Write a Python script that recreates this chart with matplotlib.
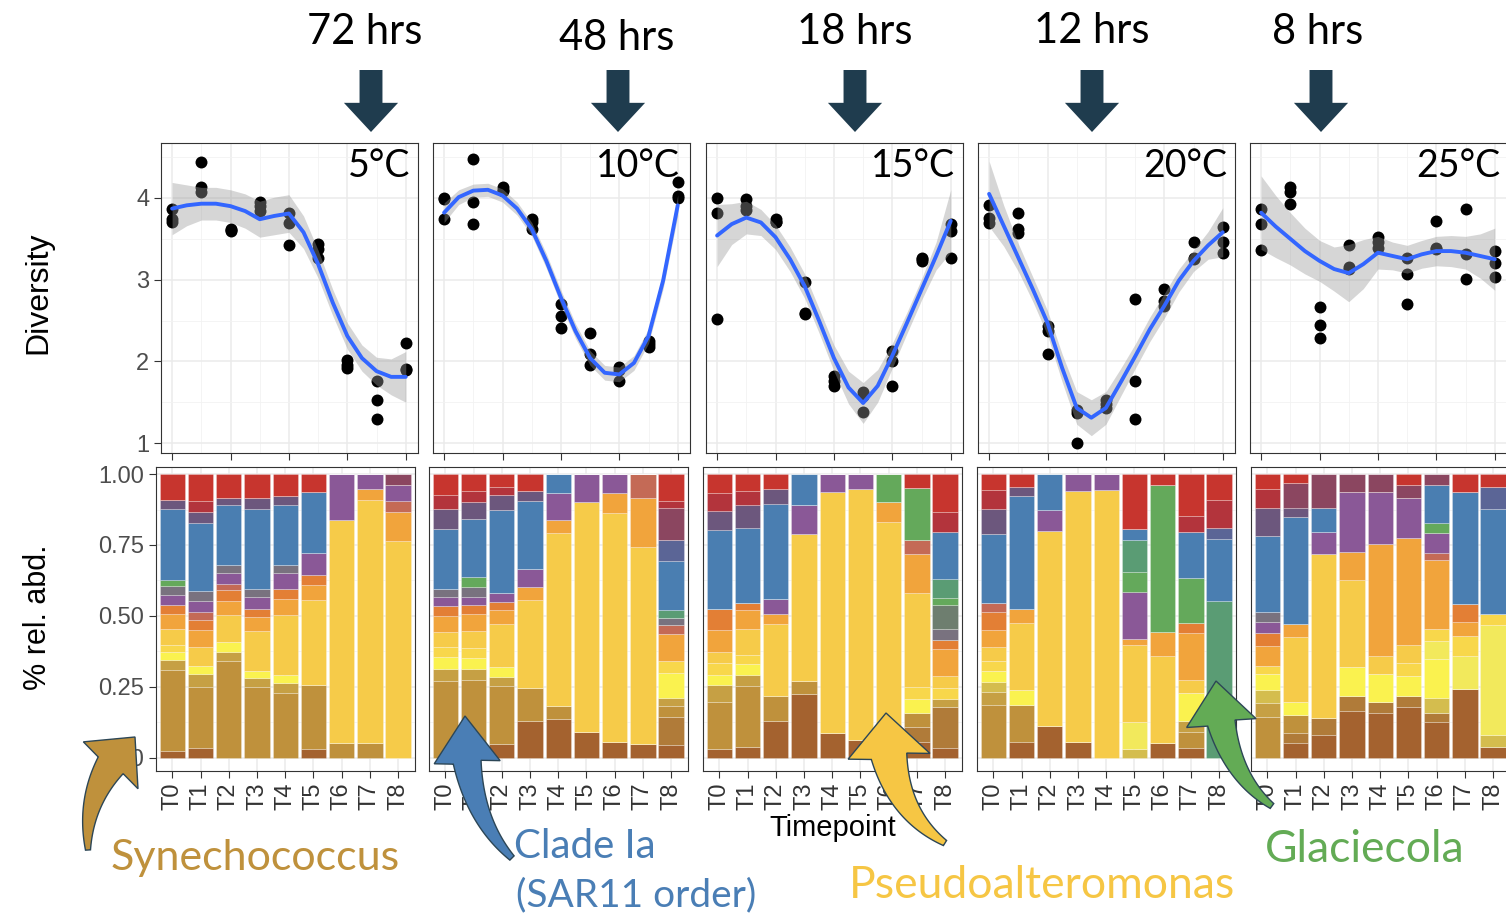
import matplotlib
matplotlib.use("Agg")
import matplotlib.pyplot as plt
import numpy as np
from matplotlib.patches import FancyArrowPatch, Polygon

W, H = 1506, 916

temps = ["5°C", "10°C", "15°C", "20°C", "25°C"]
hours = ["72 hrs", "48 hrs", "18 hrs", "12 hrs", "8 hrs"]
timepoints = ["T0", "T1", "T2", "T3", "T4", "T5", "T6", "T7", "T8"]

# diversity replicates per timepoint (T0..T8)
div_5 = [[3.86, 3.74, 3.70], [4.44, 4.13, 4.07], [3.61, 3.60, 3.62], [3.95, 3.90, 3.84],
         [3.82, 3.69, 3.42], [3.44, 3.37, 3.26], [2.02, 1.96, 1.92], [1.76, 1.53, 1.30],
         [2.23, 1.91, 1.89]]
div_10 = [[4.00, 3.99, 3.74], [4.48, 3.95, 3.68], [4.13, 4.10, 4.08], [3.74, 3.70, 3.62],
          [2.70, 2.56, 2.41], [2.35, 2.09, 1.96], [1.93, 1.90, 1.76], [2.25, 2.21, 2.18],
          [4.19, 4.02, 4.00]]
div_15 = [[4.00, 3.82, 2.52], [3.99, 3.90, 3.85], [3.74, 3.71, 3.70], [2.97, 2.59, 2.58],
          [1.82, 1.76, 1.70], [1.62, 1.58, 1.38], [2.13, 2.00, 1.70], [3.27, 3.25, 3.23],
          [3.68, 3.59, 3.27]]
div_20 = [[3.91, 3.76, 3.69], [3.82, 3.62, 3.57], [2.43, 2.37, 2.09], [1.41, 1.37, 1.00],
          [1.53, 1.48, 1.43], [2.76, 1.76, 1.29], [2.88, 2.74, 2.68], [3.46, 3.27, 3.25],
          [3.65, 3.46, 3.33]]
div_25 = [[3.87, 3.68, 3.36], [4.13, 4.07, 3.93], [2.66, 2.45, 2.29], [3.43, 3.15, 3.13],
          [3.52, 3.46, 3.39], [3.27, 3.07, 2.70], [3.72, 3.39, 3.37], [3.87, 3.31, 3.01],
          [3.35, 3.21, 3.03]]

# smoother (fit and half width of the band)
smooth_x = [0, 0.5, 1, 1.5, 2, 2.5, 3, 3.5, 4, 4.5, 5, 5.5, 6, 6.5, 7, 7.5, 8]
fit_5 = [3.87, 3.91, 3.93, 3.93, 3.90, 3.84, 3.74, 3.78, 3.81, 3.58, 3.19, 2.72, 2.31, 2.04, 1.88, 1.81, 1.81]
se_5 = [0.32, 0.25, 0.20, 0.20, 0.20, 0.21, 0.22, 0.23, 0.23, 0.20, 0.17, 0.16, 0.16, 0.16, 0.17, 0.22, 0.31]
fit_10 = [3.82, 4.01, 4.09, 4.10, 4.03, 3.87, 3.62, 3.23, 2.78, 2.37, 2.04, 1.86, 1.84, 1.98, 2.31, 2.99, 3.91]
se_10 = [0.12, 0.09, 0.08, 0.08, 0.08, 0.08, 0.08, 0.09, 0.09, 0.09, 0.09, 0.09, 0.09, 0.09, 0.09, 0.10, 0.13]
fit_15 = [3.54, 3.68, 3.76, 3.70, 3.52, 3.25, 2.92, 2.49, 2.04, 1.68, 1.49, 1.70, 2.07, 2.47, 2.88, 3.29, 3.72]
se_15 = [0.38, 0.25, 0.20, 0.16, 0.15, 0.15, 0.15, 0.15, 0.16, 0.20, 0.25, 0.20, 0.15, 0.13, 0.13, 0.17, 0.38]
fit_20 = [4.05, 3.66, 3.27, 2.88, 2.47, 1.92, 1.43, 1.31, 1.43, 1.74, 2.06, 2.39, 2.68, 2.99, 3.23, 3.42, 3.58]
se_20 = [0.40, 0.25, 0.17, 0.15, 0.15, 0.17, 0.20, 0.22, 0.20, 0.17, 0.15, 0.15, 0.15, 0.14, 0.13, 0.17, 0.30]
fit_25 = [3.82, 3.65, 3.50, 3.35, 3.23, 3.13, 3.08, 3.19, 3.33, 3.29, 3.25, 3.31, 3.35, 3.35, 3.33, 3.29, 3.25]
se_25 = [0.45, 0.38, 0.32, 0.28, 0.25, 0.27, 0.35, 0.30, 0.20, 0.17, 0.17, 0.17, 0.18, 0.19, 0.20, 0.27, 0.38]

# taxa, bottom of the stack first
taxa = ["brown", "bgold", "syn", "olive", "khaki", "byel", "pale", "lyel", "pseudo", "lor",
        "orange", "salmon", "purple", "gray", "ggreen", "green", "teal", "blue", "slate",
        "dpurp", "maroon", "dred", "red"]
taxa_colors = {
    "brown": "#A4622F", "bgold": "#B07B39", "syn": "#BF913C", "olive": "#C6A044",
    "khaki": "#D4BD4E", "byel": "#FAF24F", "pale": "#F2E95C", "lyel": "#F8D74B",
    "pseudo": "#F6CB49", "lor": "#F1A43C", "orange": "#E37F35", "salmon": "#C46A56",
    "purple": "#8A5897", "gray": "#79727F", "ggreen": "#6E7E6F", "green": "#64A95B",
    "teal": "#5A9C74", "blue": "#4A7EB1", "slate": "#5B6596", "dpurp": "#6C577D",
    "maroon": "#8B4660", "dred": "#B3343C", "red": "#C7352E",
}

# % relative abundance, T0..T8
abd_5 = {
    "brown":  [2.4, 3.3, 0, 0, 0, 3.1, 0, 0, 0],
    "syn":    [28.4, 21.6, 34.2, 24.8, 22.8, 22.4, 5.1, 5.1, 0],
    "olive":  [3.8, 4.6, 2.9, 3.3, 3.5, 0, 0, 0, 0],
    "byel":   [2.7, 2.9, 3.7, 2.6, 2.7, 0, 0, 0, 0],
    "lyel":   [2.6, 0, 0, 0, 0, 0, 0, 0, 0],
    "pseudo": [5.5, 6.6, 9.4, 13.9, 21.2, 30.0, 78.6, 85.7, 76.4],
    "lor":    [5.4, 5.9, 5.2, 5.0, 5.9, 5.4, 0, 4.1, 10.3],
    "orange": [3.2, 3.5, 3.7, 2.7, 3.4, 3.4, 0, 0, 0],
    "salmon": [0, 2.8, 2.2, 0, 0, 0, 0, 0, 3.9],
    "purple": [3.5, 3.9, 3.9, 4.5, 5.7, 7.8, 16.3, 5.1, 5.5],
    "gray":   [2.9, 3.8, 2.9, 2.8, 2.6, 0, 0, 0, 0],
    "green":  [2.4, 0, 0, 0, 0, 0, 0, 0, 0],
    "blue":   [24.8, 23.7, 21.0, 28.1, 21.2, 21.5, 0, 0, 0],
    "dpurp":  [3.3, 4.1, 2.4, 3.8, 3.1, 0, 0, 0, 0],
    "maroon": [0, 0, 0, 0, 0, 0, 0, 0, 3.9],
    "dred":   [0, 3.8, 0, 0, 0, 0, 0, 0, 0],
    "red":    [9.1, 9.4, 8.5, 8.6, 7.9, 6.5, 0, 0, 0],
}
abd_10 = {
    "brown":  [0, 0, 4.8, 13.1, 13.6, 9.2, 5.4, 4.7, 4.5],
    "bgold":  [0, 0, 0, 0, 0, 0, 0, 0, 9.9],
    "syn":    [26.9, 27.4, 20.4, 11.4, 4.5, 0, 0, 0, 3.9],
    "olive":  [4.5, 3.8, 3.3, 0, 0, 0, 0, 0, 2.9],
    "byel":   [4.0, 3.9, 3.5, 0, 0, 0, 0, 0, 8.8],
    "lyel":   [3.5, 3.5, 0, 0, 0, 0, 0, 0, 4.1],
    "pseudo": [5.3, 5.9, 15.0, 31.0, 61.3, 81.0, 80.8, 69.7, 0],
    "lor":    [5.9, 6.1, 5.0, 4.8, 4.4, 0, 7.0, 17.3, 9.4],
    "orange": [3.5, 3.3, 2.9, 0, 0, 0, 0, 0, 0],
    "salmon": [0, 0, 0, 0, 0, 0, 0, 8.3, 3.2],
    "purple": [3.1, 2.9, 3.3, 6.1, 9.4, 9.8, 6.8, 0, 0],
    "gray":   [2.9, 3.5, 0, 0, 0, 0, 0, 0, 2.5],
    "green":  [0, 3.4, 0, 0, 0, 0, 0, 0, 0],
    "teal":   [0, 0, 0, 0, 0, 0, 0, 0, 2.9],
    "blue":   [21.1, 20.4, 29.1, 24.2, 6.8, 0, 0, 0, 17.1],
    "slate":  [0, 0, 0, 0, 0, 0, 0, 0, 7.5],
    "dpurp":  [7.1, 6.1, 5.3, 3.5, 0, 0, 0, 0, 0],
    "maroon": [0, 0, 0, 0, 0, 0, 0, 0, 11.2],
    "dred":   [4.7, 3.9, 2.7, 0, 0, 0, 0, 0, 2.7],
    "red":    [7.4, 5.9, 4.7, 5.9, 0, 0, 0, 0, 9.4],
}
abd_15 = {
    "brown":  [2.9, 3.9, 13.1, 22.5, 8.6, 6.3, 0, 5.7, 3.3],
    "bgold":  [0, 0, 0, 0, 0, 0, 0, 5.0, 14.4],
    "syn":    [16.9, 21.2, 8.7, 4.6, 0, 0, 0, 5.0, 0],
    "olive":  [5.9, 3.9, 0, 0, 0, 0, 0, 0, 2.9],
    "byel":   [3.4, 4.0, 0, 0, 0, 0, 0, 5.0, 0],
    "lyel":   [4.2, 3.3, 0, 0, 0, 0, 0, 4.1, 3.8],
    "pseudo": [3.8, 9.1, 25.2, 51.7, 85.1, 88.4, 83.2, 33.3, 4.5],
    "lor":    [8.0, 6.5, 3.5, 0, 0, 0, 7.1, 13.8, 9.4],
    "orange": [7.5, 2.7, 0, 0, 0, 0, 0, 0, 3.1],
    "salmon": [0, 0, 0, 0, 0, 0, 0, 4.7, 0],
    "purple": [0, 0, 5.3, 10.4, 6.3, 5.3, 0, 0, 0],
    "gray":   [0, 0, 0, 0, 0, 0, 0, 0, 4.0],
    "ggreen": [0, 0, 0, 0, 0, 0, 0, 0, 8.3],
    "green":  [0, 0, 0, 0, 0, 0, 9.7, 18.4, 2.7],
    "teal":   [0, 0, 0, 0, 0, 0, 0, 0, 6.7],
    "blue":   [27.7, 26.5, 33.8, 10.8, 0, 0, 0, 0, 16.6],
    "dpurp":  [6.8, 7.9, 5.3, 0, 0, 0, 0, 0, 0],
    "dred":   [6.1, 5.1, 0, 0, 0, 0, 0, 0, 7.0],
    "red":    [6.8, 5.9, 5.1, 0, 0, 0, 0, 5.0, 13.3],
}
abd_20 = {
    "brown":  [0, 5.7, 11.0, 5.7, 0, 0, 5.1, 3.3, 0],
    "syn":    [18.5, 13.0, 0, 0, 0, 0, 0, 5.6, 0],
    "olive":  [4.8, 0, 0, 0, 0, 0, 0, 3.9, 0],
    "khaki":  [3.4, 0, 0, 0, 0, 2.9, 0, 0, 0],
    "byel":   [3.9, 5.0, 0, 0, 0, 0, 0, 10.0, 0],
    "pale":   [0, 0, 0, 0, 0, 9.6, 0, 0, 0],
    "lyel":   [3.5, 0, 0, 0, 0, 0, 0, 0, 0],
    "pseudo": [5.0, 23.7, 68.8, 88.4, 94.3, 27.2, 30.7, 4.7, 0],
    "lor":    [6.0, 5.0, 0, 0, 0, 2.0, 8.6, 16.5, 0],
    "orange": [6.1, 0, 0, 0, 0, 0, 0, 3.5, 0],
    "salmon": [3.5, 0, 0, 0, 0, 0, 0, 0, 0],
    "purple": [0, 0, 7.5, 5.9, 5.7, 16.7, 0, 0, 0],
    "green":  [0, 0, 0, 0, 0, 7.2, 51.8, 15.7, 0],
    "teal":   [0, 0, 0, 0, 0, 11.1, 0, 0, 55.2],
    "blue":   [24.2, 39.7, 12.7, 0, 0, 4.1, 0, 16.4, 21.8],
    "slate":  [0, 0, 0, 0, 0, 0, 0, 0, 4.1],
    "dpurp":  [8.8, 3.4, 0, 0, 0, 0, 0, 0, 0],
    "dred":   [6.8, 0, 0, 0, 0, 0, 0, 5.7, 9.7],
    "red":    [5.5, 4.5, 0, 0, 0, 19.2, 3.8, 14.7, 9.2],
}
abd_25 = {
    "brown":  [0, 5.1, 8.0, 16.5, 15.9, 17.8, 12.7, 24.2, 3.9],
    "bgold":  [0, 3.5, 6.1, 5.3, 3.9, 3.8, 2.9, 0, 0],
    "syn":    [14.2, 6.3, 0, 0, 0, 0, 0, 0, 0],
    "olive":  [5.0, 0, 0, 0, 0, 0, 0, 0, 0],
    "khaki":  [4.7, 0, 0, 0, 0, 0, 5.3, 0, 4.1],
    "byel":   [5.7, 4.6, 0, 10.0, 9.8, 7.1, 13.8, 0, 0],
    "pale":   [0, 0, 0, 0, 0, 0, 6.3, 11.5, 38.9],
    "lyel":   [2.8, 0, 0, 0, 0, 4.7, 4.4, 7.3, 3.9],
    "pseudo": [0, 23.0, 57.6, 30.8, 6.4, 6.5, 0, 0, 0],
    "lor":    [7.1, 4.8, 0, 9.9, 39.2, 37.7, 24.3, 4.8, 0],
    "orange": [4.5, 0, 0, 0, 0, 0, 0, 6.4, 0],
    "salmon": [0, 0, 0, 0, 0, 0, 2.6, 0, 0],
    "purple": [3.9, 0, 7.9, 21.2, 18.5, 13.9, 6.8, 0, 0],
    "gray":   [3.4, 0, 0, 0, 0, 0, 0, 0, 0],
    "green":  [0, 0, 0, 0, 0, 0, 3.8, 0, 0],
    "blue":   [26.9, 37.6, 8.6, 0, 0, 0, 13.2, 39.5, 36.8],
    "slate":  [0, 0, 0, 0, 0, 0, 0, 0, 7.9],
    "dpurp":  [9.8, 3.3, 0, 0, 0, 0, 0, 0, 0],
    "maroon": [0, 8.5, 11.8, 6.3, 6.3, 4.6, 3.9, 0, 0],
    "dred":   [6.7, 0, 0, 0, 0, 0, 0, 0, 0],
    "red":    [5.3, 3.3, 0, 0, 0, 3.9, 0, 6.3, 4.5],
}

divs = [div_5, div_10, div_15, div_20, div_25]
fits = [fit_5, fit_10, fit_15, fit_20, fit_25]
ses = [se_5, se_10, se_15, se_20, se_25]
abds = [abd_5, abd_10, abd_15, abd_20, abd_25]

# panel positions in pixels
top_left = [161, 433, 706, 978, 1250]
bot_left = [156, 429, 703, 977, 1251]

GG = "Liberation Sans"
ANN = "Lato"
EDGE = "#2C4656"


def box(l, t, w, h):
    return [l / W, 1 - (t + h) / H, w / W, h / H]


def fp(x, y):
    return (x / W, 1 - y / H)


fig = plt.figure(figsize=(W / 100, H / 100), dpi=100)
fig.patch.set_facecolor("white")


def style_axes(ax, show_y):
    ax.set_axisbelow(True)
    ax.grid(which="major", color="#EBEBEB", lw=1.1)
    ax.grid(which="minor", color="#F2F2F2", lw=0.6)
    ax.tick_params(which="minor", length=0)
    ax.tick_params(which="major", length=5, width=0.8, color="#333333",
                   labelsize=17, labelcolor="#4D4D4D", left=show_y, labelleft=show_y)
    for sp in ax.spines.values():
        sp.set_color("#333333")
        sp.set_linewidth(0.8)
    for lab in ax.get_xticklabels() + ax.get_yticklabels():
        lab.set_fontfamily(GG)


def curved_arrow(tail, ctrl, tip, w_tail, w_head, head_w, head_len, color):
    # quadratic bezier shaft that widens toward a triangular head (pixel coords)
    p0, c, p2 = np.array(tail, float), np.array(ctrl, float), np.array(tip, float)
    t = np.linspace(0, 1, 300)[:, None]
    pts = (1 - t) ** 2 * p0 + 2 * (1 - t) * t * c + t ** 2 * p2
    s = np.concatenate([[0], np.cumsum(np.hypot(*np.diff(pts, axis=0).T))])
    shaft = pts[s <= s[-1] - head_len]
    d = np.gradient(shaft, axis=0)
    d /= np.hypot(d[:, 0], d[:, 1])[:, None]
    n = np.stack([-d[:, 1], d[:, 0]], axis=1)
    w = np.linspace(w_tail, w_head, len(shaft))[:, None] / 2
    base = shaft[-1]
    hd = (p2 - base) / np.hypot(*(p2 - base))
    hn = np.array([-hd[1], hd[0]])
    poly = np.vstack([shaft + n * w, base + hn * head_w / 2, p2,
                      base - hn * head_w / 2, (shaft - n * w)[::-1]])
    poly = np.column_stack([poly[:, 0] / W, 1 - poly[:, 1] / H])
    fig.add_artist(Polygon(poly, closed=True, transform=fig.transFigure,
                           fc=color, ec=EDGE, lw=1.0, zorder=5))


for i in range(5):
    # diversity
    ax = fig.add_axes(box(top_left[i], 143, 257, 310))
    for k, vals in enumerate(divs[i]):
        ax.scatter([k] * len(vals), vals, s=74, color="black", lw=0, zorder=2)
    f = np.array(fits[i])
    s = np.array(ses[i])
    ax.fill_between(smooth_x, f - s, f + s, color="#999999", alpha=0.4, lw=0, zorder=3)
    ax.plot(smooth_x, f, color="#3366FF", lw=2.8, zorder=4, solid_capstyle="round")
    ax.set_xlim(-0.38, 8.42)
    ax.set_ylim(0.878, 4.673)
    ax.set_xticks([0, 2, 4, 6, 8])
    ax.set_xticks([1, 3, 5, 7], minor=True)
    ax.set_yticks([1, 2, 3, 4])
    ax.set_yticks([1.5, 2.5, 3.5, 4.5], minor=True)
    ax.tick_params(labelbottom=False)
    style_axes(ax, i == 0)

    # relative abundance
    ax = fig.add_axes(box(bot_left[i], 467, 259, 304))
    x = np.arange(len(timepoints))
    base = np.zeros(len(timepoints))
    for name in taxa:
        if name not in abds[i]:
            continue
        v = np.array(abds[i][name]) / 100
        ax.bar(x, v, 0.9, bottom=base, color=taxa_colors[name],
               edgecolor=(1, 1, 1, 0.35), lw=0.5, zorder=2)
        base += v
    ax.set_xlim(-0.58, 8.6)
    ax.set_ylim(-0.047, 1.025)
    ax.set_xticks(x)
    ax.set_xticklabels(timepoints, rotation=90)
    ax.set_yticks([0, 0.25, 0.5, 0.75, 1.0])
    ax.set_yticklabels(["0.00", "0.25", "0.50", "0.75", "1.00"])
    ax.set_yticks([0.125, 0.375, 0.625, 0.875], minor=True)
    style_axes(ax, i == 0)
    ax.tick_params(axis="x", labelcolor="#333333")

# axis titles
fig.text(*fp(38, 293), "Diversity", rotation=90, ha="center", va="center",
         fontsize=23, family=GG)
fig.text(*fp(38, 617), "% rel. abd.", rotation=90, ha="center", va="center",
         fontsize=22, family=GG)
fig.text(*fp(833, 828), "Timepoint", ha="center", va="center", fontsize=21, family=GG)

# temperature tags
temp_right = [410, 680, 955, 1227, 1500]
for t, xr in zip(temps, temp_right):
    fig.text(*fp(xr, 177), t, ha="right", va="baseline", fontsize=27, family=ANN)

# incubation times and arrows
hour_x = [365, 617, 855, 1092, 1318]
hour_y = [32, 38, 32, 31, 32]
arrow_x = [371, 618, 855, 1092, 1321]
for lab, hx, hy, ax_ in zip(hours, hour_x, hour_y, arrow_x):
    fig.text(*fp(hx, hy), lab, ha="center", va="center", fontsize=30, family=ANN)
    fig.add_artist(FancyArrowPatch(fp(ax_, 70), fp(ax_, 132), transform=fig.transFigure,
                                   arrowstyle="simple,head_width=39,head_length=21,tail_width=16.5",
                                   mutation_scale=1, shrinkA=0, shrinkB=0,
                                   color="#1F3C4E", lw=0))

# taxa call-outs: arrows (tail, control, tip, widths) and labels
curved_arrow((88, 850), (84, 785), (135, 737), 5, 30, 72, 37, "#BF913C")
curved_arrow((512, 858), (462, 808), (465, 716), 6, 28, 66, 46, "#4A7EB5")
curved_arrow((945, 843), (884, 805), (886, 713), 6, 36, 82, 43, "#F6C644")
curved_arrow((1272, 806), (1220, 768), (1216, 681), 6, 28, 70, 42, "#63AB55")

fig.text(*fp(255, 858), "Synechococcus", ha="center", va="center", fontsize=31,
         family=ANN, color="#BF913C")
fig.text(*fp(585, 847), "Clade Ia", ha="center", va="center", fontsize=29,
         family=ANN, color="#4A7EB5")
fig.text(*fp(636, 895), "(SAR11 order)", ha="center", va="center", fontsize=28,
         family=ANN, color="#4A7EB5")
fig.text(*fp(1042, 885), "Pseudoalteromonas", ha="center", va="center", fontsize=32,
         family=ANN, color="#F6C644")
fig.text(*fp(1365, 850), "Glaciecola", ha="center", va="center", fontsize=32,
         family=ANN, color="#63AB55")

fig.savefig("out.png", dpi=100)
